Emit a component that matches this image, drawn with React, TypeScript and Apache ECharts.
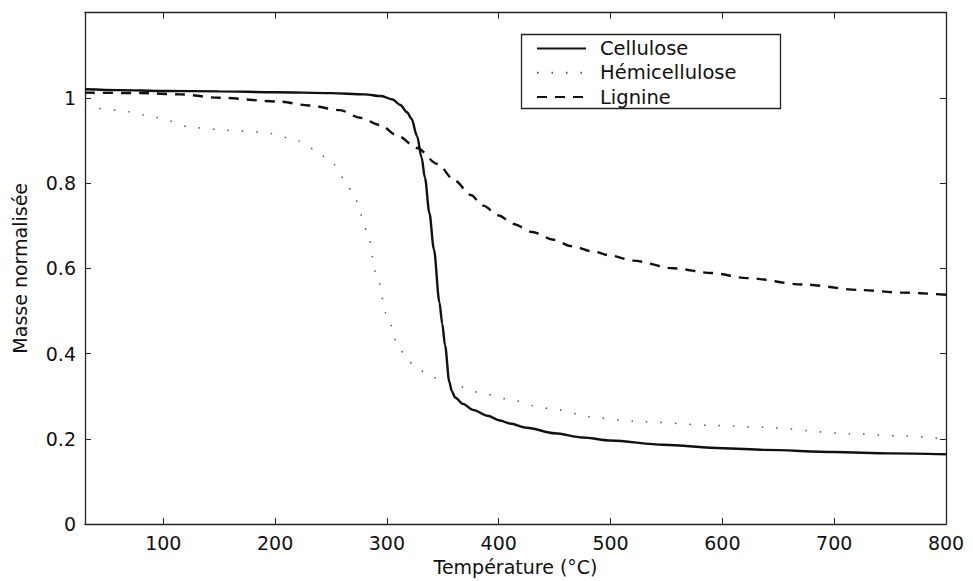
import { useEffect, useRef } from "react";
import * as echarts from "echarts";

const xTicks = [100, 200, 300, 400, 500, 600, 700, 800];
const yTicks = [0, 0.2, 0.4, 0.6, 0.8, 1];

const celluloseT = [30, 60, 100, 150, 200, 250, 280, 295, 305, 312, 318, 322, 327, 331, 334, 338, 342, 347, 349.5, 352, 355.8, 358, 361, 368, 377, 390, 401, 410, 425, 450, 475, 500, 547, 600, 638, 700, 750, 800];
const celluloseM = [1.02, 1.018, 1.016, 1.015, 1.013, 1.011, 1.008, 1.004, 0.996, 0.983, 0.966, 0.951, 0.91, 0.86, 0.8125, 0.73, 0.645, 0.52, 0.47, 0.419, 0.334, 0.312, 0.297, 0.282, 0.268, 0.254, 0.243, 0.236, 0.226, 0.213, 0.203, 0.196, 0.186, 0.178, 0.174, 0.169, 0.166, 0.164];

const hemiT = [30, 60, 70, 87, 93, 127, 157, 190, 215, 235, 250, 262, 272, 282, 291, 300, 310, 318, 327, 339, 350, 383, 406, 442, 490, 520, 598, 635, 715, 759, 800];
const hemiM = [0.98, 0.971, 0.967, 0.958, 0.954, 0.93, 0.924, 0.919, 0.905, 0.88, 0.85, 0.81, 0.76, 0.69, 0.583, 0.49, 0.42, 0.385, 0.365, 0.347, 0.336, 0.309, 0.294, 0.272, 0.249, 0.241, 0.231, 0.227, 0.212, 0.207, 0.2];

const lignineT = [30, 80, 115, 150, 204, 230, 258, 276, 294, 310, 327, 345, 361, 375, 386, 400, 413, 430, 449, 465, 485, 500, 520, 556, 590, 622, 672, 724, 760, 800];
const lignineM = [1.012, 1.011, 1.008, 1.0, 0.991, 0.982, 0.971, 0.953, 0.936, 0.91, 0.882, 0.845, 0.805, 0.772, 0.747, 0.724, 0.704, 0.685, 0.667, 0.652, 0.639, 0.63, 0.618, 0.6, 0.589, 0.577, 0.562, 0.549, 0.543, 0.538];

const pairs = (t: number[], m: number[]) => t.map((v, i) => [v, m[i]]);

const FONT = "DejaVu Sans";
const INK = "#111";

export default function App() {
  const ref = useRef<HTMLDivElement>(null);
  useEffect(() => {
    if (!ref.current) return;
    const chart = echarts.init(ref.current, undefined, { renderer: "svg" });
    const baseX = {
      type: "value",
      min: 30,
      max: 800,
      splitLine: { show: false },
      axisLine: { show: true, onZero: false, lineStyle: { color: "#222", width: 1.3 } },
    };
    const baseY = {
      type: "value",
      min: 0,
      max: 1.2,
      interval: 0.2,
      splitLine: { show: false },
      axisLine: { show: true, onZero: false, lineStyle: { color: "#222", width: 1.3 } },
    };
    const transparentItem = { color: "rgba(0,0,0,0)", borderWidth: 0, borderColor: "rgba(0,0,0,0)" };
    chart.setOption({
      animation: false,
      backgroundColor: "#fff",
      grid: { left: 85, right: 27, top: 12.5, bottom: 50 },
      graphic: [
        {
          type: "rect",
          z: 1,
          shape: { x: 521.5, y: 34.5, width: 259, height: 74 },
          style: { fill: "#fff", stroke: "#222", lineWidth: 1.3 },
        },
      ],
      legend: {
        orient: "vertical",
        left: 536,
        top: 38.5,
        padding: 0,
        itemWidth: 49,
        itemHeight: 14,
        itemGap: 4.3,
        z: 5,
        itemStyle: transparentItem,
        textStyle: { fontFamily: FONT, fontSize: 19.5, lineHeight: 19, color: INK, padding: [0, 0, 0, 9] },
        data: ["Cellulose", "Hémicellulose", "Lignine"],
      },
      xAxis: [
        {
          ...baseX,
          name: "Température (°C)",
          nameLocation: "middle",
          nameGap: 26,
          nameTextStyle: { fontFamily: FONT, fontSize: 19, color: INK },
          axisTick: { show: true, inside: true, length: 6, customValues: xTicks, lineStyle: { color: "#222" } },
          axisLabel: { show: true, customValues: xTicks, margin: 9, fontFamily: FONT, fontSize: 19, color: INK },
        },
        {
          ...baseX,
          position: "top",
          axisTick: { show: true, inside: true, length: 6, customValues: xTicks, lineStyle: { color: "#222" } },
          axisLabel: { show: false },
        },
      ],
      yAxis: [
        {
          ...baseY,
          name: "Masse normalisée",
          nameLocation: "middle",
          nameGap: 56,
          nameTextStyle: { fontFamily: FONT, fontSize: 19, color: INK },
          axisTick: { show: true, inside: true, length: 6, customValues: yTicks, lineStyle: { color: "#222" } },
          axisLabel: { show: true, customValues: yTicks, margin: 9, fontFamily: FONT, fontSize: 19, color: INK },
        },
        {
          ...baseY,
          position: "right",
          axisTick: { show: true, inside: true, length: 6, customValues: yTicks, lineStyle: { color: "#222" } },
          axisLabel: { show: false },
        },
      ],
      series: [
        {
          name: "Cellulose",
          type: "line",
          data: pairs(celluloseT, celluloseM),
          symbol: "none",
          smooth: 0.3,
          smoothMonotone: "x",
          lineStyle: { color: INK, width: 2.4, type: "solid" },
          itemStyle: transparentItem,
          z: 3,
        },
        {
          name: "Hémicellulose",
          type: "line",
          data: pairs(hemiT, hemiM),
          symbol: "none",
          smooth: 0.3,
          smoothMonotone: "x",
          lineStyle: { color: "#555", width: 1.5, type: [1.5, 13] },
          itemStyle: transparentItem,
          z: 2,
        },
        {
          name: "Lignine",
          type: "line",
          data: pairs(lignineT, lignineM),
          symbol: "none",
          smooth: 0.3,
          smoothMonotone: "x",
          lineStyle: { color: INK, width: 2.4, type: [10, 8] },
          itemStyle: transparentItem,
          z: 3,
        },
      ],
    });
    return () => chart.dispose();
  }, []);
  return <div ref={ref} style={{ position: "fixed", left: 0, top: 0, width: 973, height: 581 }} />;
}
